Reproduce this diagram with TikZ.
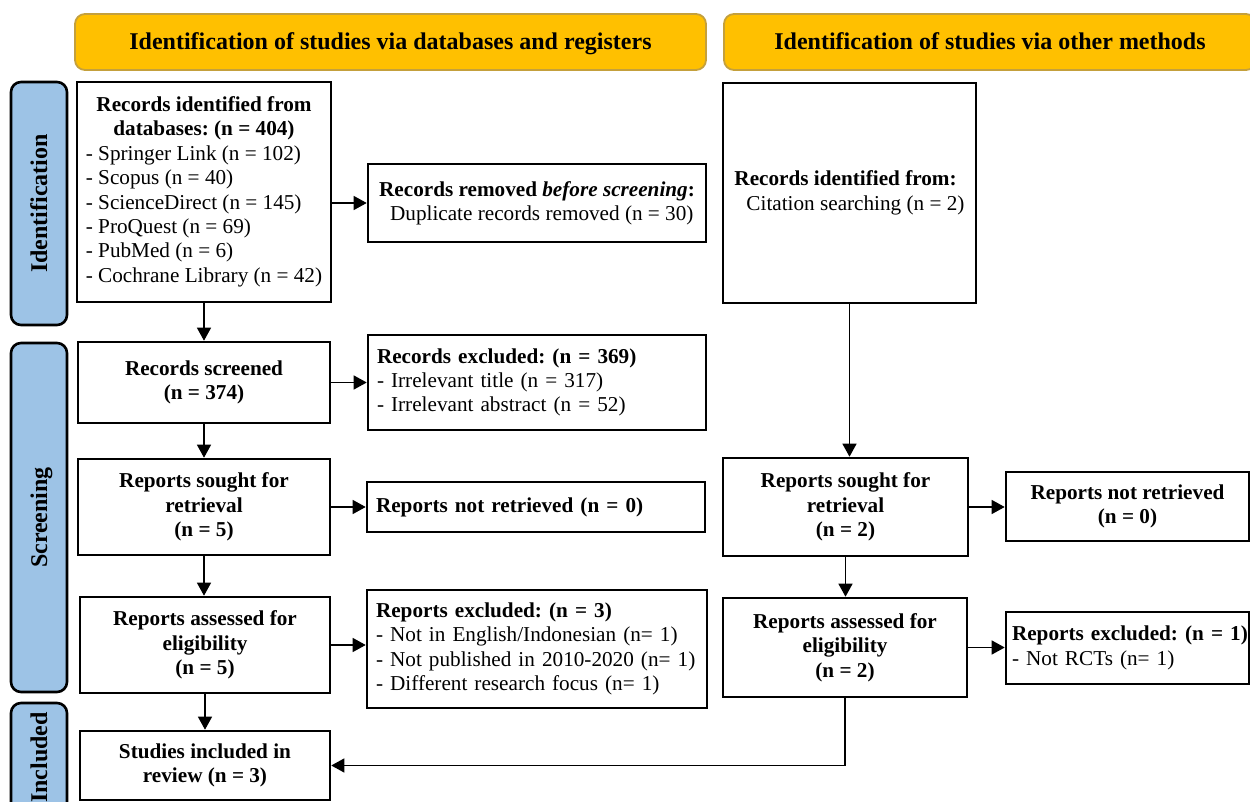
\documentclass[tikz,border=0pt]{standalone}
\usepackage{fontspec}
\setmainfont{Liberation Serif}
\frenchspacing
\usetikzlibrary{arrows.meta}
\definecolor{hdrgold}{RGB}{255,192,0}
\definecolor{hdredge}{RGB}{196,160,60}
\definecolor{sideblue}{RGB}{157,195,230}
\tikzset{
box/.style = {draw, line width=1.3pt, inner sep=0pt, align=center, font=\fontsize{10.6}{12.2}\selectfont},
leftbox/.style = {box, align=left, inner xsep=4.5pt},
hdr/.style = {draw=hdredge, fill=hdrgold, line width=0.9pt, rounded corners=5pt, text height=9pt, text depth=1pt, font=\fontsize{12}{14}\selectfont\bfseries},
side/.style = {draw, fill=sideblue, line width=1.3pt, rounded corners=5pt, rotate=90, text height=9pt, text depth=1pt, font=\fontsize{12}{14}\selectfont\bfseries},
arr/.style = {line width=0.7pt, -{Triangle[length=6.5pt,width=7pt]}}
}
\begin{document}
\begin{tikzpicture}[x=0.5pt,y=-0.5pt]
\useasboundingbox (0,0) rectangle (1250,802);
%Headers
\node[hdr, minimum width=315.5pt, minimum height=28pt] (hdrA) at (390.5,42) {Identification of studies via databases and registers};
\node[hdr, minimum width=266pt, minimum height=28pt] (hdrB) at (990,42) {Identification of studies via other methods};
%Phases
\node[side, minimum width=121.5pt, minimum height=28pt] (sideId) at (39,203.5) {Identification};
\node[side, minimum width=174.5pt, minimum height=28pt] (sideScr) at (39,517.5) {Screening};
\node[side, minimum width=54.5pt, minimum height=28pt] (sideInc) at (39,757.5) {Included};
%Databases and registers
\node[box, minimum width=127pt, minimum height=110pt] (db) at (204,192) {\begin{tabular}{@{}l@{}}
\multicolumn{1}{@{}c@{}}{\textbf{Records identified from}}\\
\multicolumn{1}{@{}c@{}}{\textbf{databases: (n = 404)}}\\
- Springer Link (n = 102)\\
- Scopus (n = 40)\\
- ScienceDirect (n = 145)\\
- ProQuest (n = 69)\\
- PubMed (n = 6)\\
- Cochrane Library (n = 42)
\end{tabular}};
\node[box, align=left, minimum width=169pt, minimum height=39pt] (rm) at (537,203) {\textbf{Records removed \textit{before screening}:}\\\hspace*{5.5pt}Duplicate records removed (n = 30)};
\node[box, minimum width=126pt, minimum height=40.5pt] (scr) at (204,382.5) {\textbf{Records screened}\\\textbf{(n = 374)}};
\node[leftbox, text width=160pt, minimum height=47.5pt] (excA) at (537,382.5) {\textbf{Records excluded: (n = 369)}\\- Irrelevant title (n = 317)\\- Irrelevant abstract (n = 52)};
\node[box, minimum width=126pt, minimum height=48pt] (srtA) at (204,507) {\textbf{Reports sought for}\\\textbf{retrieval}\\\textbf{(n = 5)}};
\node[leftbox, text width=160pt, minimum height=25pt] (nrA) at (536,507) {\textbf{Reports not retrieved (n = 0)}};
\node[box, minimum width=125pt, minimum height=48pt] (elA) at (205,645) {\textbf{Reports assessed for}\\\textbf{eligibility}\\\textbf{(n = 5)}};
\node[leftbox, text width=161pt, minimum height=59pt] (excB) at (537,649) {\textbf{Reports excluded: (n = 3)}\\- Not in English/Indonesian (n= 1)\\- Not published in 2010-2020 (n= 1)\\- Different research focus (n= 1)};
\node[box, minimum width=125pt, minimum height=34.5pt] (incl) at (205,765.5) {\textbf{Studies included in}\\\textbf{review (n = 3)}};
%Other methods
\node[box, align=left, minimum width=126.5pt, minimum height=110pt] (oth) at (849.5,193) {\textbf{Records identified from:}\\\hspace*{6pt}Citation searching (n = 2)};
\node[box, minimum width=122.5pt, minimum height=49pt] (srtB) at (845.5,507) {\textbf{Reports sought for}\\\textbf{retrieval}\\\textbf{(n = 2)}};
\node[box, minimum width=121.5pt, minimum height=34.5pt] (nrB) at (1127.5,506.5) {\textbf{Reports not retrieved}\\\textbf{(n = 0)}};
\node[box, minimum width=122pt, minimum height=49.5pt] (elB) at (845,647.5) {\textbf{Reports assessed for}\\\textbf{eligibility}\\\textbf{(n = 2)}};
\node[leftbox, inner xsep=3pt, text width=115.5pt, minimum height=36pt] (exB) at (1127.5,648) {\mbox{\textbf{Reports excluded: (n = 1)}}\\- Not RCTs (n= 1)};
%Arrows
\draw[arr] (db.south) -- (scr.north);
\draw[arr] (db.east |- rm.west) -- (rm.west);
\draw[arr] (scr.east) -- (excA.west |- scr.east);
\draw[arr] (scr.south) -- (srtA.north);
\draw[arr] (srtA.east) -- (nrA.west |- srtA.east);
\draw[arr] (srtA.south) -- (srtA.south |- elA.north);
\draw[arr] (elA.east) -- (excB.west |- elA.east);
\draw[arr] (elA.south) -- (incl.north);
\draw[arr] (oth.south) -- (oth.south |- srtB.north);
\draw[arr] (srtB.east) -- (nrB.west |- srtB.east);
\draw[arr] (srtB.south) -- (srtB.south |- elB.north);
\draw[arr] (elB.east) -- (exB.west |- elB.east);
\draw[arr] (elB.south) |- (incl.east);
\end{tikzpicture}
\end{document}
